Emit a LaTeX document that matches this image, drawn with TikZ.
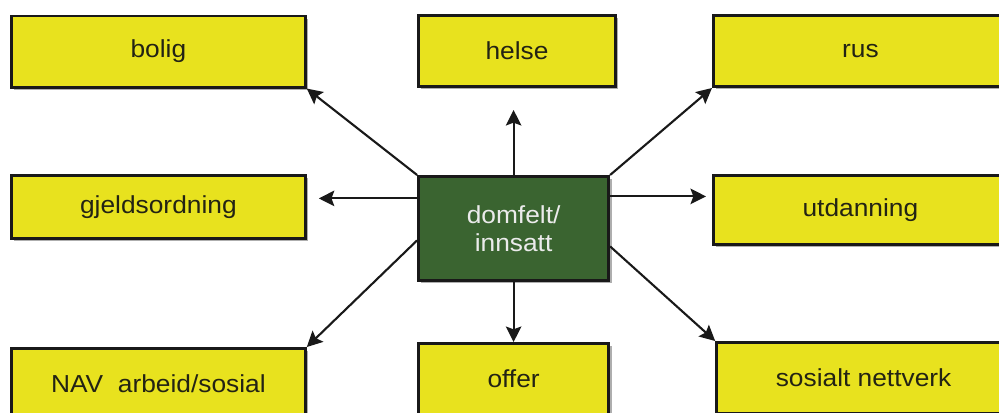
\documentclass[tikz,border=0pt]{standalone}
\usepackage{fontspec}
\setmainfont[FakeStretch=1.07]{Liberation Sans}
\usetikzlibrary{shadows,arrows.meta}
\definecolor{boxyellow}{RGB}{232,226,30}
\definecolor{boxgreen}{RGB}{58,100,48}
\definecolor{boxtext}{RGB}{35,35,20}

\begin{document}
\begin{tikzpicture}[
  area/.style={draw=black!90, line width=2pt, fill=boxyellow, inner sep=0pt,
    minimum width=7.35cm, minimum height=1.78cm, text=boxtext,
    font=\fontsize{17.5}{20}\selectfont,
    drop shadow={shadow xshift=2pt, shadow yshift=-2pt, fill=black!45, opacity=0.7}},
  person/.style={area, fill=boxgreen, text=black!8, align=center,
    minimum width=4.755cm, minimum height=2.6cm},
  arr/.style={line width=1.5pt, black!90, -{Stealth[length=11pt,width=11pt,inset=2pt]}}
]
\useasboundingbox (0,0) rectangle (24.975,10.3);

% the person in the middle
\node[person] (c) at (12.84,4.59) {domfelt/\\innsatt};

% the areas round it
\node[area] (bolig) at (3.96,9.01) {bolig};
\node[area, minimum width=4.93cm] (helse) at (12.925,9.025) {helse};
\node[area] (rus) at (21.51,9.025) {rus};
\node[area, minimum height=1.58cm] (gjeld) at (3.96,5.125) {gjeldsordning};
\node[area, minimum height=1.73cm] (utd) at (21.51,5.05) {utdanning};
\node[area] (nav) at (3.96,0.7) {NAV\ \ arbeid/sosial};
\node[area, minimum width=4.755cm] (offer) at (12.84,0.825) {offer};
\node[area] (sos) at (21.59,0.85) {sosialt nettverk};

% arrows out from the middle
\draw[arr] (c.north west) -- (bolig.south east);
\draw[arr, shorten >=0.55cm] (c.north) -- (c.north |- helse.south);
\draw[arr] (c.north east) -- (rus.south west);
\draw[arr, shorten >=0.3cm] ([yshift=0.75cm]c.west) -- ([yshift=0.75cm]c.west -| gjeld.east);
\draw[arr, shorten >=0.15cm] ([yshift=0.8cm]c.east) -- ([yshift=0.8cm]c.east -| utd.west);
\draw[arr] ([yshift=-0.3cm]c.west) -- (nav.north east);
\draw[arr] (c.south) -- (offer.north);
\draw[arr] ([yshift=-0.45cm]c.east) -- (sos.north west);
\end{tikzpicture}
\end{document}
